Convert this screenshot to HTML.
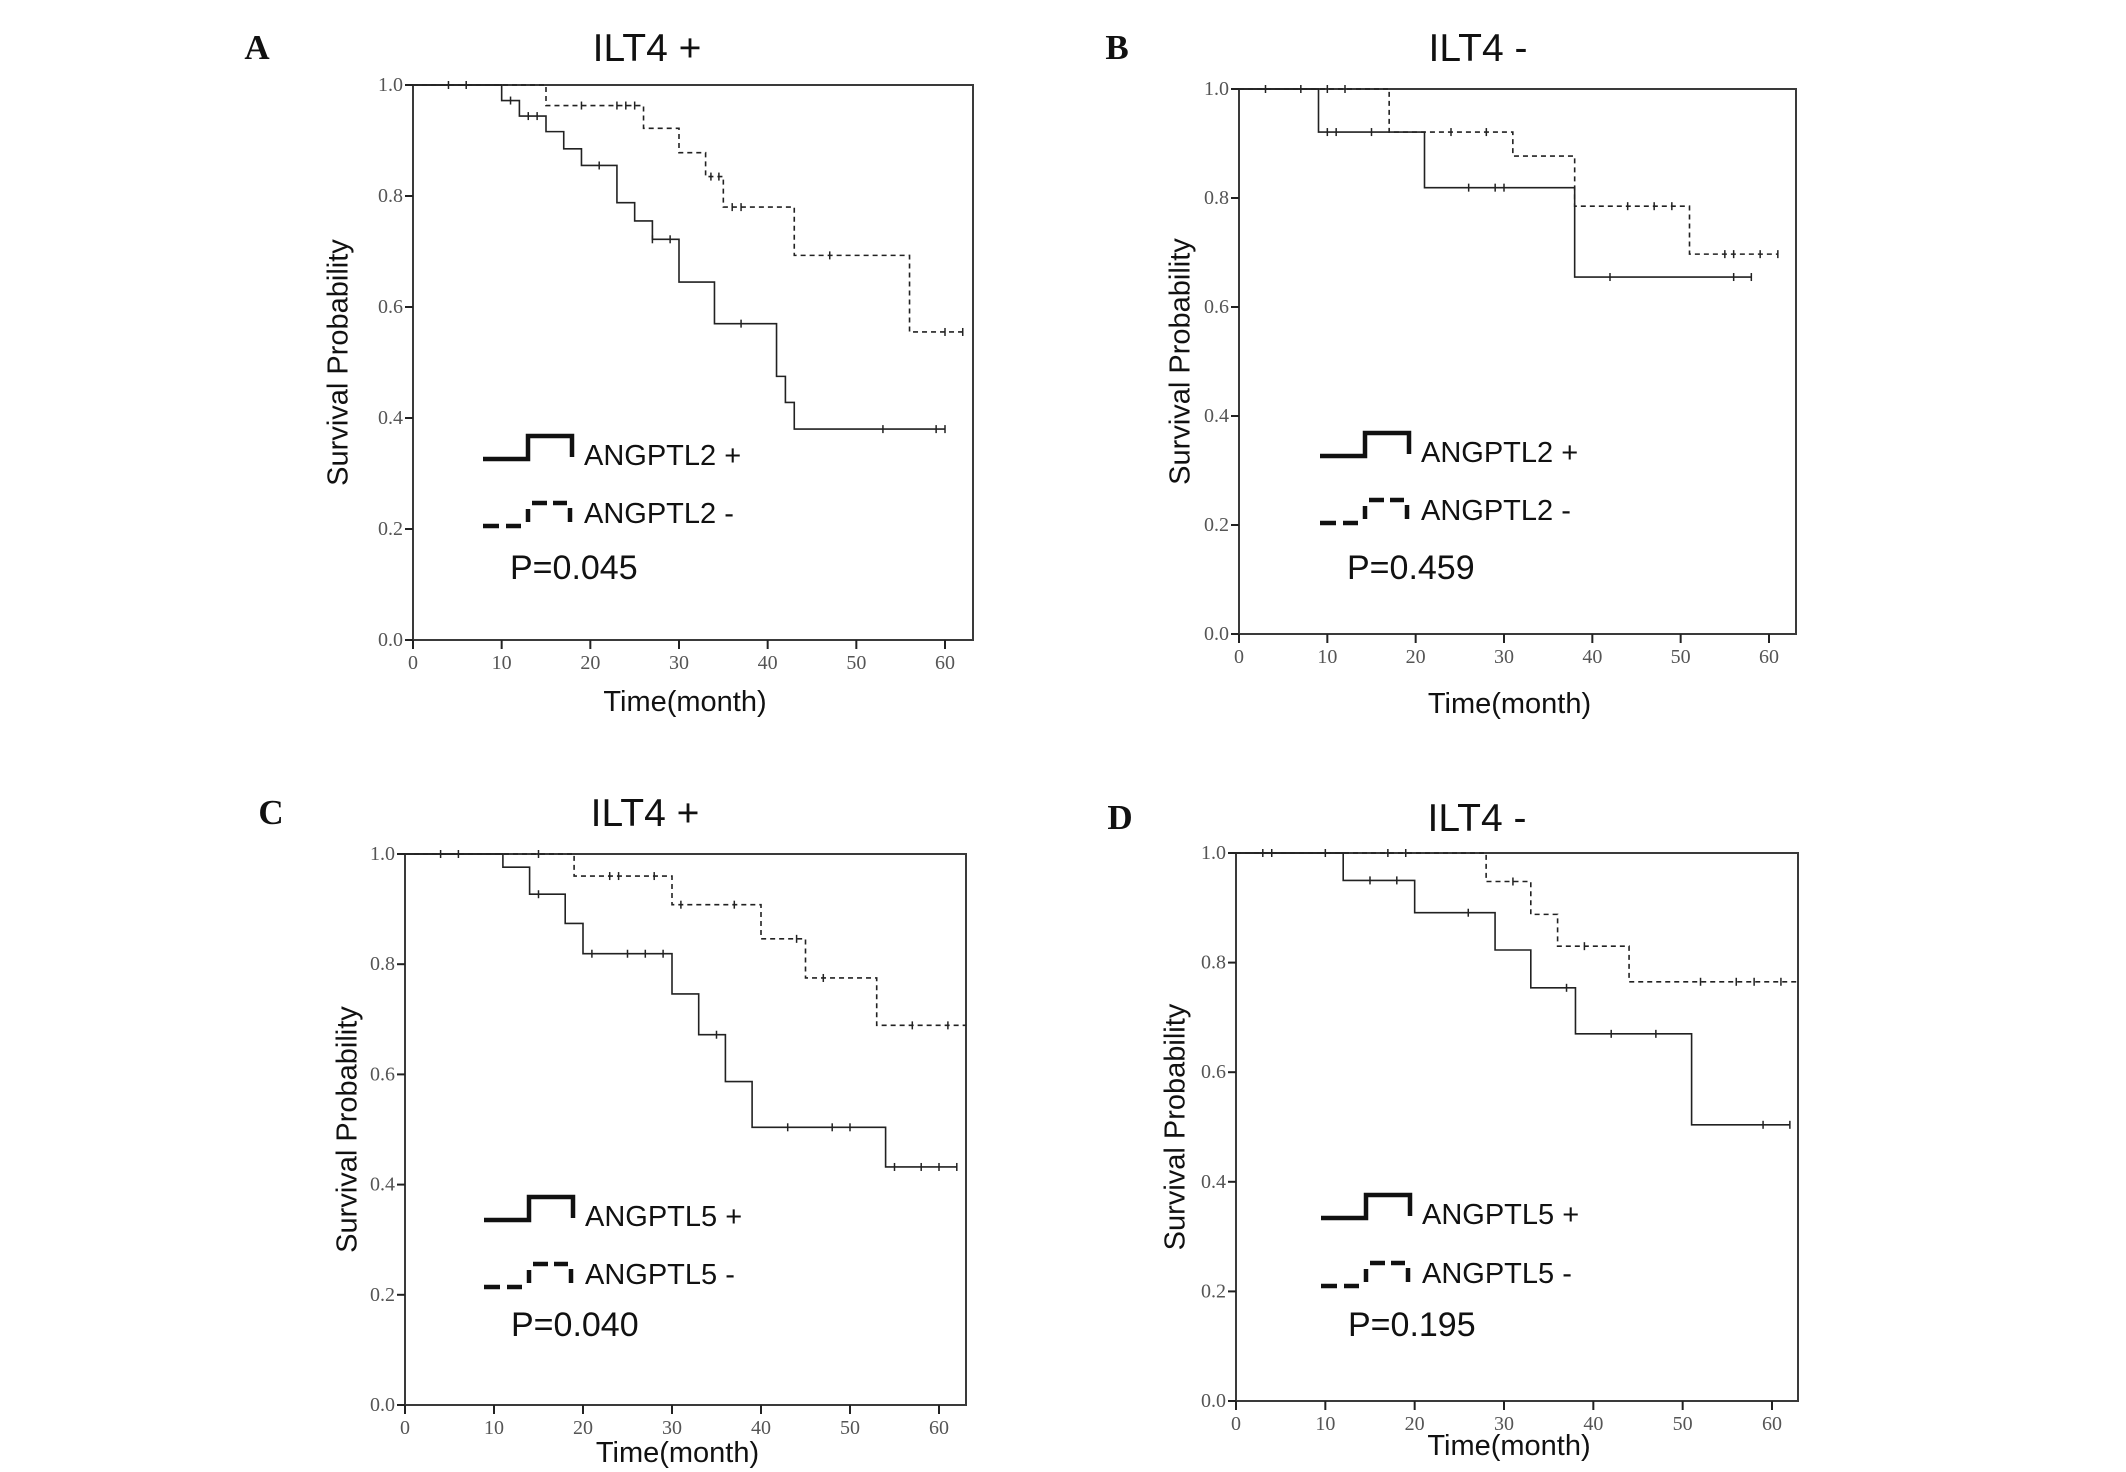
<!DOCTYPE html>
<html><head><meta charset="utf-8"><style>
html,body{margin:0;padding:0;background:#fff;}
svg{display:block;}
.tk{font-family:"Liberation Serif",serif;font-size:20px;fill:#555;}
.ss{font-family:"Liberation Sans",sans-serif;fill:#111;}
</style></head><body>
<svg id="fig" width="2126" height="1472" viewBox="0 0 2126 1472" xmlns="http://www.w3.org/2000/svg"></svg>
<script>
// ---- data (months / survival probability) ----
const xTicks = [0,10,20,30,40,50,60];
const yTicks = [0.0,0.2,0.4,0.6,0.8,1.0];
const yTickLabels = ["0.0","0.2","0.4","0.6","0.8","1.0"];
const panelLetters = ["A","B","C","D"];
const panelTitles = ["ILT4 +","ILT4 -","ILT4 +","ILT4 -"];
const legendPos = ["ANGPTL2 +","ANGPTL2 +","ANGPTL5 +","ANGPTL5 +"];
const legendNeg = ["ANGPTL2 -","ANGPTL2 -","ANGPTL5 -","ANGPTL5 -"];
const pValues = ["P=0.045","P=0.459","P=0.040","P=0.195"];

// Panel A
const aPosT = [10,12,15,17,19,23,25,27,30,34,41,42,43];
const aPosS = [0.972,0.944,0.916,0.885,0.855,0.788,0.755,0.722,0.645,0.57,0.475,0.428,0.38];
const aPosC = [4,6,11,13,14,21,27,29,37,53,59,60];
const aPosEnd = 60;
const aNegT = [15,26,30,33,35,43,56];
const aNegS = [0.963,0.922,0.878,0.835,0.78,0.693,0.555];
const aNegC = [19,23,24,25,33.6,34.5,36,37,47,60,62];
const aNegEnd = 62;
// Panel B
const bPosT = [9,21,38];
const bPosS = [0.921,0.819,0.655];
const bPosC = [3,7,10,11,15,26,29,30,42,56,58];
const bPosEnd = 58;
const bNegT = [17,31,38,51];
const bNegS = [0.921,0.877,0.785,0.697];
const bNegC = [10,12,24,28,44,47,49,55,56,59,61];
const bNegEnd = 61;
// Panel C
const cPosT = [11,14,18,20,30,33,36,39,54];
const cPosS = [0.976,0.927,0.874,0.819,0.746,0.672,0.587,0.504,0.432];
const cPosC = [4,6,15,21,25,27,29,35,43,48,50,55,58,60,62];
const cPosEnd = 62;
const cNegT = [19,30,40,45,53];
const cNegS = [0.96,0.908,0.846,0.775,0.689];
const cNegC = [15,23,24,28,31,37,44,47,57,61];
const cNegEnd = 63;
// Panel D
const dPosT = [12,20,29,33,38,51];
const dPosS = [0.95,0.891,0.823,0.754,0.67,0.504];
const dPosC = [3,4,10,15,18,26,37,42,47,59,62];
const dPosEnd = 62;
const dNegT = [28,33,36,44];
const dNegS = [0.948,0.888,0.83,0.765];
const dNegC = [17,19,31,39,52,56,58,61];
const dNegEnd = 63;

const series = [
  [aPosT,aPosS,aPosC,aPosEnd,aNegT,aNegS,aNegC,aNegEnd],
  [bPosT,bPosS,bPosC,bPosEnd,bNegT,bNegS,bNegC,bNegEnd],
  [cPosT,cPosS,cPosC,cPosEnd,cNegT,cNegS,cNegC,cNegEnd],
  [dPosT,dPosS,dPosC,dPosEnd,dNegT,dNegS,dNegC,dNegEnd]
];

// ---- layout ----
const layout = [
  {L:413,R:973,T:85,B:640,x60:945,letterX:257,letterY:47,titleX:647,titleY:47,ylX:340,xlY:700,lgX:483,lgY1:459,lgY2:526,pY:579},
  {L:1239,R:1796,T:89,B:634,x60:1769,letterX:1117,letterY:47,titleX:1478,titleY:47,ylX:1182,xlY:702,lgX:1320,lgY1:456,lgY2:523,pY:579},
  {L:405,R:966,T:854,B:1405,x60:939,letterX:271,letterY:812,titleX:645,titleY:812,ylX:349,xlY:1451,lgX:484,lgY1:1220,lgY2:1287,pY:1336},
  {L:1236,R:1798,T:853,B:1401,x60:1772,letterX:1120,letterY:817,titleX:1477,titleY:817,ylX:1177,xlY:1444,lgX:1321,lgY1:1218,lgY2:1286,pY:1336}
];

const NS="http://www.w3.org/2000/svg";
const svg=document.getElementById('fig');
function mk(tag,attrs,parent){const e=document.createElementNS(NS,tag);for(const k in attrs)e.setAttribute(k,attrs[k]);(parent||svg).appendChild(e);return e;}

function stepAt(T,S,t){let s=1;for(let i=0;i<T.length;i++){if(T[i]<=t)s=S[i];}return s;}

layout.forEach((P,pi)=>{
  const g=mk('g',{});
  
  
  const xs=m=>P.L+(P.x60-P.L)*m/60;
  const ys=v=>P.B-(P.B-P.T)*v;

  const let_=mk('text',{x:P.letterX,y:P.letterY+12,'text-anchor':'middle','font-family':'"Liberation Serif",serif','font-weight':'bold','font-size':35,fill:'#111'},g);
  let_.textContent=panelLetters[pi];
  
  

  const ti=mk('text',{x:P.titleX,y:P.titleY+14,'text-anchor':'middle','class':'ss','font-size':39},g);
  ti.textContent=panelTitles[pi];
  
  

  const box=mk('rect',{x:P.L,y:P.T,width:P.R-P.L,height:P.B-P.T,fill:'none',stroke:'#3a3a3a','stroke-width':2},g);
  
  

  yTicks.forEach((v,i)=>{
    const y=ys(v);
    mk('line',{x1:P.L-8,x2:P.L,y1:y,y2:y,stroke:'#222','stroke-width':2},g);
    const t=mk('text',{x:P.L-10,y:y+6,'text-anchor':'end','class':'tk'},g);
    t.textContent=yTickLabels[i];
    
    
  });
  xTicks.forEach(m=>{
    const x=xs(m);
    mk('line',{x1:x,x2:x,y1:P.B,y2:P.B+9,stroke:'#222','stroke-width':2},g);
    const t=mk('text',{x:x,y:P.B+29,'text-anchor':'middle','class':'tk'},g);
    t.textContent=String(m);
    
    
  });

  const yl=mk('text',{x:P.ylX,y:(P.T+P.B)/2,'text-anchor':'middle','class':'ss','font-size':29,transform:'rotate(-90 '+P.ylX+' '+((P.T+P.B)/2)+')','dominant-baseline':'middle'},g);
  yl.textContent='Survival Probability';
  
  
  const xl=mk('text',{x:(P.L+P.R)/2-8,y:P.xlY+11,'text-anchor':'middle','class':'ss','font-size':29},g);
  xl.textContent='Time(month)';
  
  

  const sd=series[pi];
  [[0,'none','pos'],[4,'5,4','neg']].forEach(([o,dash,nm])=>{
    const T=sd[o],S=sd[o+1],C=sd[o+2],E=sd[o+3];
    let d='M'+xs(0)+','+ys(1);
    T.forEach((t,i)=>{d+=' H'+xs(t)+' V'+ys(S[i]);});
    d+=' H'+xs(E);
    const p=mk('path',{d:d,fill:'none',stroke:'#222','stroke-width':1.6,'stroke-dasharray':dash},g);
    
    
    C.forEach(c=>{
      const y=ys(stepAt(T,S,c)),x=xs(c);
      const cm=mk('line',{x1:x,x2:x,y1:y-4,y2:y+4,stroke:'#222','stroke-width':1.5},g);
      
      
    });
  });

  // legend
  const lx=P.lgX,y1=P.lgY1,y2=P.lgY2;
  const l1=mk('path',{d:`M${lx},${y1} H${lx+45} V${y1-23} H${lx+89} V${y1-2}`,fill:'none',stroke:'#111','stroke-width':4.5},g);
  
  
  const t1=mk('text',{x:lx+101,y:y1+6,'class':'ss','font-size':29},g);
  t1.textContent=legendPos[pi];
  
  
  const l2=mk('path',{d:`M${lx},${y2} H${lx+16} M${lx+23},${y2} H${lx+38} M${lx+45},${y2-4} V${y2-17} M${lx+49},${y2-23} H${lx+64} M${lx+70},${y2-23} H${lx+84} M${lx+87},${y2-4} V${y2-18}`,fill:'none',stroke:'#111','stroke-width':4.5},g);
  
  
  const t2=mk('text',{x:lx+101,y:y2-3,'class':'ss','font-size':29},g);
  t2.textContent=legendNeg[pi];
  
  
  const pv=mk('text',{x:lx+27,y:P.pY,'class':'ss','font-size':34},g);
  pv.textContent=pValues[pi];
  
  
});
</script>
</body></html>
